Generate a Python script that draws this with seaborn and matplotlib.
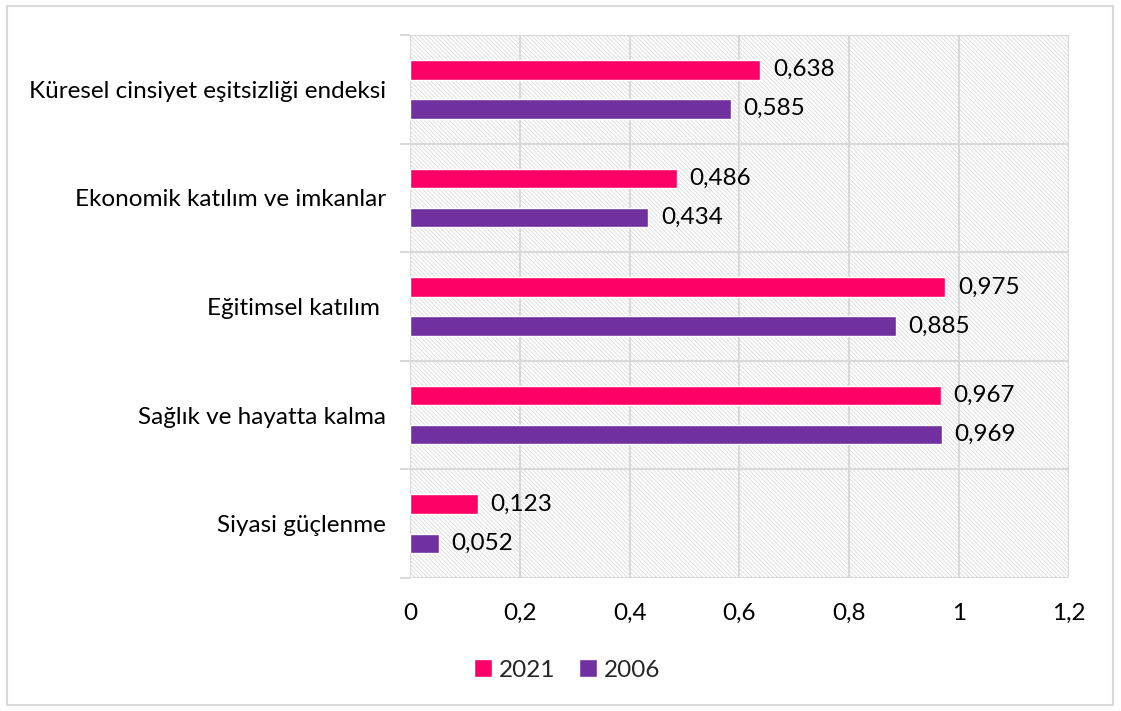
import matplotlib
matplotlib.use("Agg")
import matplotlib.pyplot as plt
from matplotlib.patches import Rectangle, Patch
from matplotlib.ticker import FixedLocator, FuncFormatter
import seaborn as sns
import pandas as pd

categories = [
    "Küresel cinsiyet eşitsizliği endeksi",
    "Ekonomik katılım ve imkanlar",
    "Eğitimsel katılım ",
    "Sağlık ve hayatta kalma",
    "Siyasi güçlenme",
]
years = ["2021", "2006"]
values_2021 = [0.638, 0.486, 0.975, 0.967, 0.123]
values_2006 = [0.585, 0.434, 0.885, 0.969, 0.052]
x_ticks = [0, 0.2, 0.4, 0.6, 0.8, 1.0, 1.2]

colors = {"2021": "#FF0066", "2006": "#7030A0"}
grid_col = "#d9d9d9"
fs = 17.5

df = pd.DataFrame({
    "kategori": categories * 2,
    "yil": ["2021"] * len(categories) + ["2006"] * len(categories),
    "deger": values_2021 + values_2006,
})

sns.set_theme(style="white")
plt.rcParams["font.family"] = ["Lato", "DejaVu Sans"]
plt.rcParams["hatch.linewidth"] = 0.6
plt.rcParams["hatch.color"] = "#dadada"

fig = plt.figure(figsize=(11.21, 7.11), dpi=100)
ax = fig.add_axes([0.3657, 0.187, 0.9536 - 0.3657, 0.9508 - 0.187])

# hatched plot background
ax.add_patch(Rectangle((0, 0), 1, 1, transform=ax.transAxes, facecolor="white",
                       edgecolor="#dadada", hatch="\\" * 8, linewidth=0, zorder=0))

sns.barplot(data=df, y="kategori", x="deger", hue="yil", order=categories,
            hue_order=years, palette=colors, orient="h", width=0.72, gap=0.5,
            ax=ax, legend=False, zorder=3, saturation=1)

ax.set_xlim(0, 1.2)
ax.set_ylim(len(categories) - 0.5, -0.5)
ax.set_xlabel("")
ax.set_ylabel("")

# value labels
for container in ax.containers:
    labels = [f"{b.get_width():.3f}".replace(".", ",") for b in container]
    ax.bar_label(container, labels=labels, padding=9, fontsize=fs, color="black")

# grid
ax.xaxis.set_major_locator(FixedLocator(x_ticks))
ax.xaxis.set_major_formatter(FuncFormatter(lambda v, p: f"{v:g}".replace(".", ",")))
for v in x_ticks:
    ax.axvline(v, color=grid_col, lw=1.5, zorder=1)
bounds = [i - 0.5 for i in range(len(categories) + 1)]
ax.yaxis.set_minor_locator(FixedLocator(bounds))
for b in bounds:
    ax.axhline(b, color=grid_col, lw=1.5, zorder=1)

for s in ax.spines.values():
    s.set_visible(False)

ax.tick_params(axis="x", length=0, pad=18, labelsize=fs, labelcolor="black")
ax.tick_params(axis="y", which="major", length=0, pad=17, labelsize=fs, labelcolor="black")
ax.tick_params(axis="y", which="minor", length=7, width=1.5, color=grid_col, left=True)

# legend
handles = [Patch(facecolor=colors[y], label=y) for y in years]
fig.legend(handles=handles, loc="center", bbox_to_anchor=(567 / 1121, 1 - 670 / 711),
           ncol=2, frameon=False, fontsize=fs, handlelength=0.75, handleheight=0.75,
           handletextpad=0.25, columnspacing=1.0)

# outer frame
fig.patches.append(Rectangle((7 / 1121, 6 / 711), 1106 / 1121, 699 / 711,
                             transform=fig.transFigure, fill=False,
                             edgecolor=grid_col, lw=1.5))

fig.savefig("out.png", dpi=100)
